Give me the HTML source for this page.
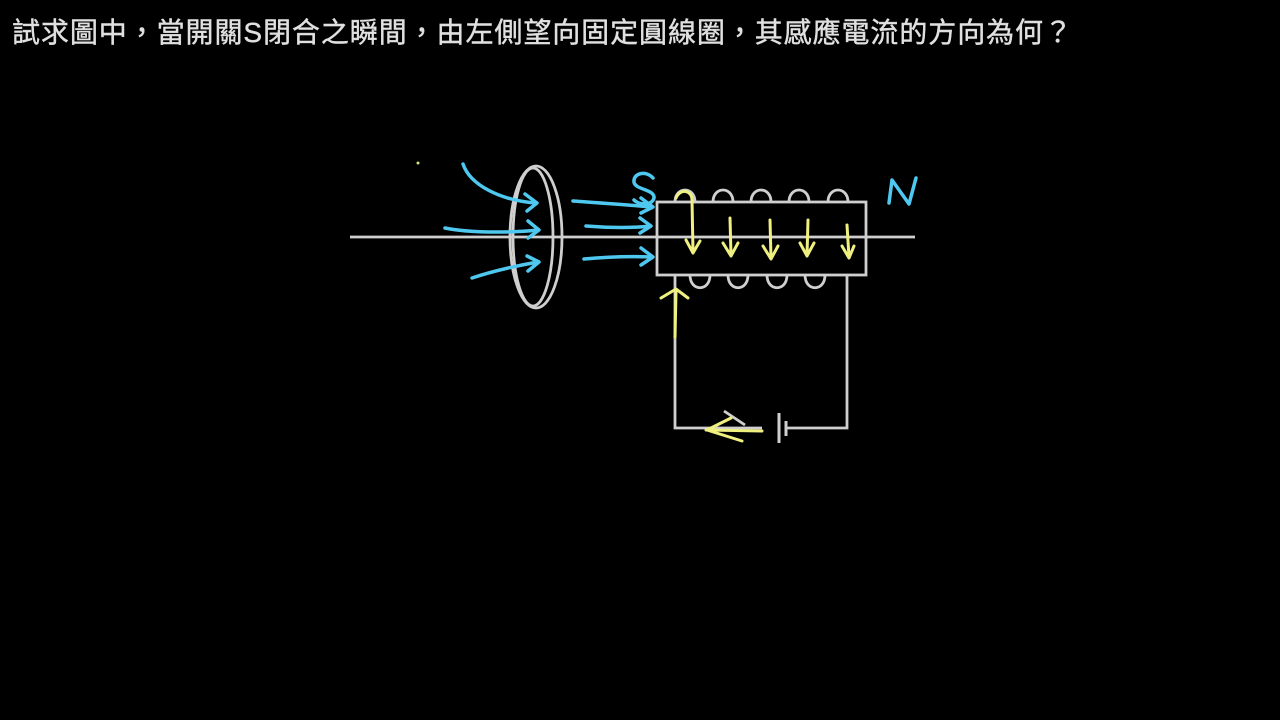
<!DOCTYPE html>
<html><head><meta charset="utf-8"><style>
html,body{margin:0;padding:0;background:#000;width:1280px;height:720px;overflow:hidden}
</style></head><body>
<svg width="1280" height="720" viewBox="0 0 1280 720" xmlns="http://www.w3.org/2000/svg">
<rect width="1280" height="720" fill="#000"/>
<text x="12" y="42" fill="#e0e0e0" stroke="#e0e0e0" stroke-width="0.4" font-size="28" font-family="'Liberation Sans','Noto Sans CJK TC',sans-serif" textLength="1060" lengthAdjust="spacing">試求圖中，當開關S閉合之瞬間，由左側望向固定圓線圈，其感應電流的方向為何？</text>
<g stroke="#cfcfcf" fill="none" stroke-width="2.8">
<line x1="350" y1="237" x2="915" y2="237"/>
<ellipse cx="536" cy="237" rx="26" ry="71"/>
<ellipse cx="533" cy="237" rx="20" ry="69"/>
<rect x="657" y="202" width="209" height="73"/>
<path d="M675 202 C675 186,695 186,695 202"/>
<path d="M713 202 C713 186,733 186,733 202"/>
<path d="M751 202 C751 186,771 186,771 202"/>
<path d="M789 202 C789 186,809 186,809 202"/>
<path d="M828 202 C828 186,848 186,848 202"/>
<path d="M690 275 C690 292,710 292,710 275"/>
<path d="M728 275 C728 292,748 292,748 275"/>
<path d="M767 275 C767 292,787 292,787 275"/>
<path d="M805 275 C805 292,825 292,825 275"/>
<polyline points="675,275 675,428 762,428"/>
<polyline points="786,428 847,428 847,275"/>
<line x1="724" y1="411" x2="745" y2="425"/>
<line x1="779" y1="413" x2="779" y2="443" stroke-width="3"/>
<line x1="786" y1="421" x2="786" y2="436" stroke-width="3"/>
</g>
<g stroke="#4fc8f0" fill="none" stroke-width="3.5" stroke-linecap="round" stroke-linejoin="round">
<path d="M463 164 C470 185,500 200,535 203"/><path d="M525 194 L537 203 L527 211"/>
<path d="M445 228 C470 233,510 233,538 230"/><path d="M528 221 L539 230 L528 238"/>
<path d="M472 278 C490 272,515 266,538 262"/><path d="M527 256 L539 262 L528 271"/>
<path d="M573 201 C600 203,630 205,652 207"/><path d="M641 198 L653 207 L641 213"/>
<path d="M586 226 C610 228,635 228,650 226"/><path d="M640 218 L651 226 L640 233"/>
<path d="M584 259 C605 257,630 256,652 257"/><path d="M641 248 L653 257 L641 265"/>
<path d="M653 178 C646 170,633 173,634 182 C635 190,655 189,654 198 C652 206,639 205,634 200"/>
<path d="M889 203 L892 180 L909 204 L916 178"/>
</g>
<g stroke="#f0f080" fill="none" stroke-width="3" stroke-linecap="round" stroke-linejoin="round">
<path d="M676 198 C680 188,692 190,692 200 L693 252"/><path d="M686 240 L693 253 L700 241"/>
<path d="M730 218 L731 255"/><path d="M723 243 L731 256 L738 243"/>
<path d="M770 220 L771 258"/><path d="M763 246 L771 259 L778 246"/>
<path d="M808 220 L807 255"/><path d="M800 243 L807 256 L814 243"/>
<path d="M847 225 L849 257"/><path d="M842 246 L849 258 L854 246"/>
<path d="M675 337 L676 292"/><path d="M661 298 L676 289 L688 298"/>
<path d="M762 431 L706 430"/><path d="M731 418 L707 430 L742 441"/>
</g>
<circle cx="418" cy="163" r="1.5" fill="#d8e080"/>
</svg>
</body></html>
